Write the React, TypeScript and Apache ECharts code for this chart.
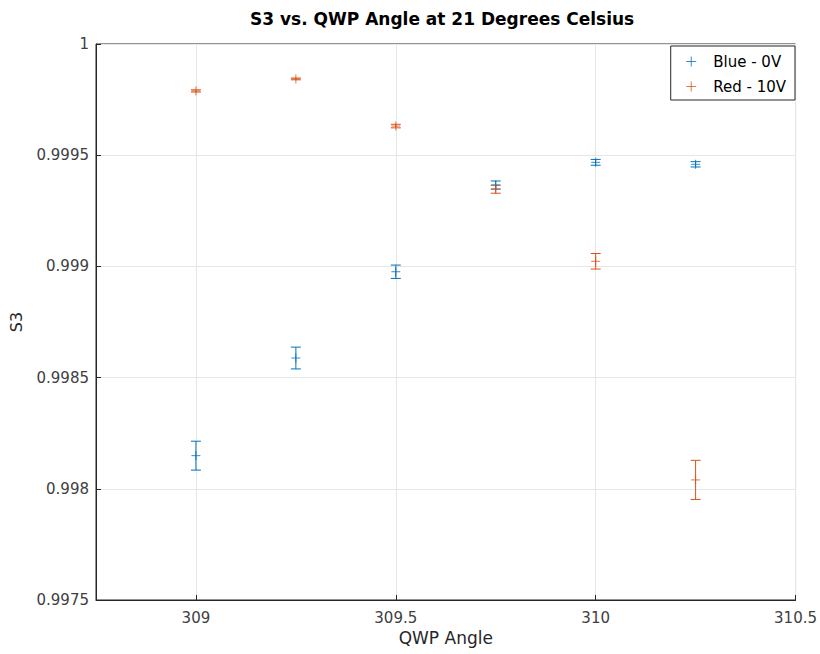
import React, { useEffect, useRef } from "react";
import * as echarts from "echarts";

const qwpAngle = [309, 309.25, 309.5, 309.75, 310, 310.25];
const blueS3 = [0.998149, 0.998588, 0.998976, 0.999366, 0.999468, 0.999459];
const blueErr = [0.000065, 0.000049, 0.00003, 0.000018, 0.000013, 0.000012];
const redS3 = [0.999789, 0.999843, 0.999631, 0.999347, 0.999023, 0.99804];
const redErr = [0.000005, 0.000004, 0.000008, 0.000018, 0.000035, 0.000088];
const xTicks = [309, 309.5, 310, 310.5];

const BLUE = "#0072BD";
const RED = "#D95319";
const FONT = "DejaVu Sans";

const plus = "path://M0,5L10,5M5,0L5,10";

function errSeries(name: string, ys: number[], es: number[], color: string) {
  return {
    type: "custom",
    name,
    data: qwpAngle.map((x, i) => [x, ys[i], es[i]]),
    renderItem: (params: any, api: any) => {
      const x = api.value(0);
      const y = api.value(1);
      const e = api.value(2);
      const top = api.coord([x, y + e]);
      const bot = api.coord([x, y - e]);
      const w = 5;
      const st = { stroke: color, lineWidth: 1 };
      return {
        type: "group",
        children: [
          { type: "line", shape: { x1: top[0], y1: top[1], x2: bot[0], y2: bot[1] }, style: st },
          { type: "line", shape: { x1: top[0] - w, y1: top[1], x2: top[0] + w, y2: top[1] }, style: st },
          { type: "line", shape: { x1: bot[0] - w, y1: bot[1], x2: bot[0] + w, y2: bot[1] }, style: st },
        ],
      };
    },
    z: 3,
  };
}

export default function App() {
  const ref = useRef<HTMLDivElement>(null);
  useEffect(() => {
    if (!ref.current) return;
    const chart = echarts.init(ref.current, null, { renderer: "svg" });
    chart.setOption({
      animation: false,
      backgroundColor: "#fff",
      title: {
        text: "S3 vs. QWP Angle at 21 Degrees Celsius",
        left: 245,
        top: 5,
        textStyle: { fontFamily: FONT, fontSize: 17, fontWeight: "bold", color: "#000" },
      },
      grid: {
        left: 93,
        right: 24,
        top: 44,
        bottom: 54,
        show: true,
        borderColor: "#262626",
        borderWidth: 1,
        backgroundColor: "#fff",
      },
      legend: {
        data: [
          { name: "Blue - 0V", icon: plus, itemStyle: { color: "none", borderColor: BLUE, borderWidth: 1 } },
          { name: "Red - 10V", icon: plus, itemStyle: { color: "none", borderColor: RED, borderWidth: 1 } },
        ],
        orient: "vertical",
        right: 25,
        top: 46,
        backgroundColor: "#fff",
        borderColor: "#262626",
        borderWidth: 1,
        borderRadius: 0,
        padding: [8, 9, 6, 13],
        itemWidth: 10,
        itemHeight: 10,
        itemGap: 10,
        textStyle: { fontFamily: FONT, fontSize: 15, color: "#000", padding: [0, 0, 0, 12] },
      },
      xAxis: {
        type: "value",
        min: 308.75,
        max: 310.5,
        name: "QWP Angle",
        nameLocation: "middle",
        nameGap: 28,
        nameTextStyle: { fontFamily: FONT, fontSize: 17, color: "#262626" },
        axisLine: { show: true, lineStyle: { color: "#262626" } },
        axisTick: { show: true, inside: true, length: 5, customValues: xTicks, lineStyle: { color: "#262626" } },
        axisLabel: { fontFamily: FONT, fontSize: 15, color: "#404040", margin: 10, customValues: xTicks },
        splitLine: { show: true, lineStyle: { color: "#e6e6e6" } },
      },
      yAxis: {
        type: "value",
        min: 0.9975,
        max: 1,
        interval: 0.0005,
        name: "S3",
        nameLocation: "middle",
        nameGap: 72,
        nameTextStyle: { fontFamily: FONT, fontSize: 16, color: "#262626" },
        axisLine: { show: true, lineStyle: { color: "#262626" } },
        axisTick: { show: true, inside: true, length: 5, lineStyle: { color: "#262626" } },
        axisLabel: {
          fontFamily: FONT,
          fontSize: 15,
          color: "#404040",
          margin: 7,
          formatter: (v: number) => String(parseFloat(v.toFixed(4))),
        },
        splitLine: { show: true, lineStyle: { color: "#e6e6e6" } },
      },
      series: [
        errSeries("Blue err", blueS3, blueErr, BLUE),
        errSeries("Red err", redS3, redErr, RED),
        {
          type: "scatter",
          name: "Blue - 0V",
          symbol: plus,
          symbolSize: 9,
          itemStyle: { color: "none", borderColor: BLUE, borderWidth: 1 },
          data: qwpAngle.map((x, i) => [x, blueS3[i]]),
          z: 4,
        },
        {
          type: "scatter",
          name: "Red - 10V",
          symbol: plus,
          symbolSize: 9,
          itemStyle: { color: "none", borderColor: RED, borderWidth: 1 },
          data: qwpAngle.map((x, i) => [x, redS3[i]]),
          z: 4,
        },
      ],
    });
    return () => chart.dispose();
  }, []);
  return <div ref={ref} style={{ position: "absolute", left: 0, top: 0, width: 820, height: 654 }} />;
}
